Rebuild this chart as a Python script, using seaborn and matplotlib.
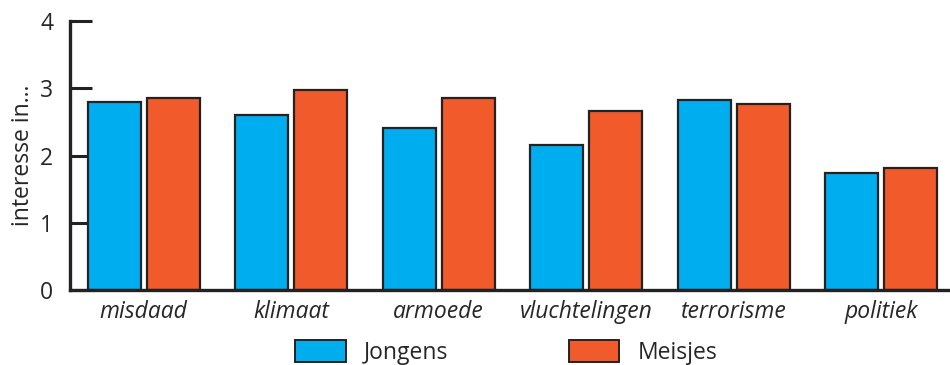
import pandas as pd
import numpy as np
import matplotlib
matplotlib.use('Agg')
import matplotlib.pyplot as plt
import seaborn as sns
from matplotlib.patches import Patch
from matplotlib.ticker import FixedLocator

sns.set_style('white')
plt.rcParams['font.family'] = ['Open Sans', 'DejaVu Sans']

# ========== 数据 ==========
categories = ['misdaad', 'klimaat', 'armoede', 'vluchtelingen', 'terrorisme', 'politiek']
groups = ['Jongens', 'Meisjes']
jongens = [2.80, 2.60, 2.41, 2.15, 2.83, 1.74]
meisjes = [2.86, 2.98, 2.85, 2.66, 2.77, 1.82]
y_ticks = [0, 1, 2, 3, 4]
colors = {'Jongens': '#00AEEF', 'Meisjes': '#F15A2B'}

df = pd.DataFrame({
    'onderwerp': categories * 2,
    'groep': ['Jongens'] * len(categories) + ['Meisjes'] * len(categories),
    'interesse': jongens + meisjes,
})

# ========== 绘图 ==========
fig = plt.figure(figsize=(9.5, 3.65), dpi=100)
ax = fig.add_axes([70 / 950, 75 / 365, 885 / 950, 269 / 365])
sns.barplot(data=df, x='onderwerp', y='interesse', hue='groep', order=categories,
            hue_order=groups, palette=colors, saturation=1, width=0.8, gap=0.1,
            edgecolor='#222222', linewidth=1.6, errorbar=None, legend=False, ax=ax)

ax.set_xlim(-0.5, 5.5)
ax.set_ylim(0, 4)
ax.set_yticks(y_ticks)
ax.set_yticklabels([str(t) for t in y_ticks], fontsize=16.5)
ax.set_xticks(range(len(categories)))
ax.set_xticklabels(categories, fontsize=16.5, style='italic')
ax.xaxis.set_minor_locator(FixedLocator(np.arange(0.5, len(categories) - 0.5, 1)))
ax.tick_params(axis='x', which='major', length=0, pad=7)
ax.tick_params(axis='x', which='minor', direction='in', length=3, width=2.2, color='#222222')
ax.tick_params(axis='y', which='major', direction='in', length=16, width=2.2,
               color='#222222', pad=12, left=True)
ax.set_xlabel('')
ax.set_ylabel('interesse in...', fontsize=16.5, labelpad=4)

for side in ['top', 'right']:
    ax.spines[side].set_visible(False)
for side in ['left', 'bottom']:
    ax.spines[side].set_linewidth(2.4)
    ax.spines[side].set_color('#222222')

handles = [Patch(facecolor=colors[g], edgecolor='#222222', linewidth=1.4, label=g) for g in groups]
fig.legend(handles=handles, loc='center', bbox_to_anchor=(0.533, 0.035), ncol=2,
           frameon=False, fontsize=16.5, handlelength=2.2, handleheight=1.1,
           columnspacing=5.25, handletextpad=0.8, borderpad=0)

fig.savefig('out.png', dpi=100)
plt.close(fig)
